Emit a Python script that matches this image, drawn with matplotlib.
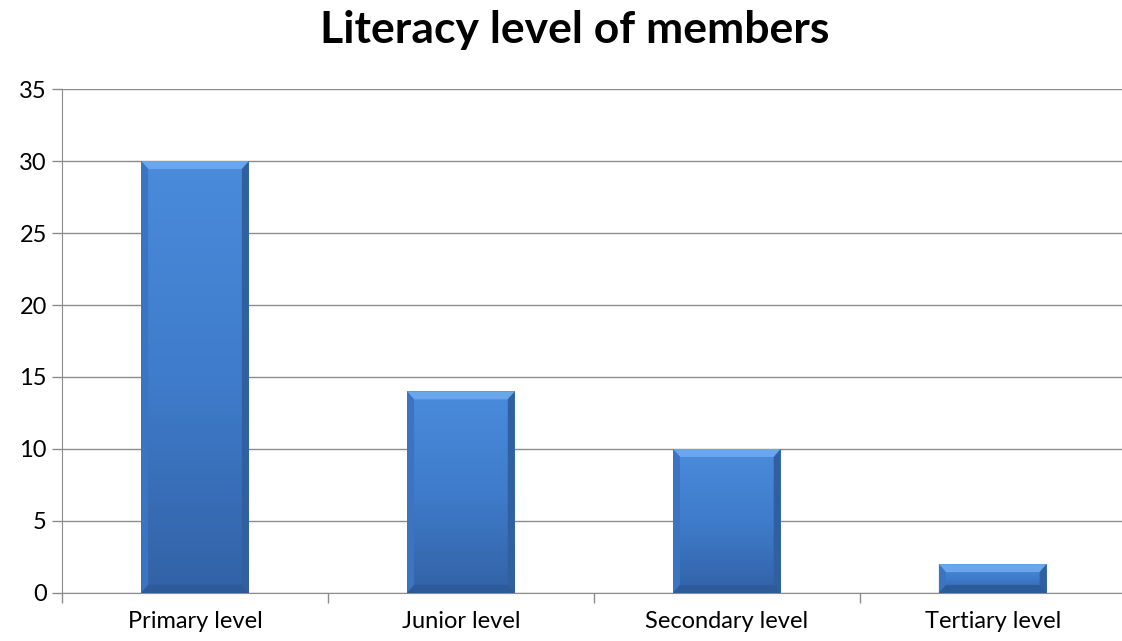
import numpy as np
import matplotlib
matplotlib.use('Agg')
import matplotlib.pyplot as plt
from matplotlib.patches import Polygon, Rectangle
from matplotlib.colors import LinearSegmentedColormap

categories = ['Primary level', 'Junior level', 'Secondary level', 'Tertiary level']
values = [30, 14, 10, 2]

plt.rcParams['font.family'] = ['Lato', 'DejaVu Sans']

fig = plt.figure(figsize=(11.22, 6.41), dpi=100)
ax_box = [0.0553, 0.075, 0.948, 0.786]
ax = fig.add_axes(ax_box)

x = np.arange(len(categories))
width = 0.405
ax.set_xlim(-0.5, len(categories) - 0.5)
ax.set_ylim(0, 35)

# pixel -> data scale for the bevel
ax_w = fig.get_figwidth() * fig.dpi * ax_box[2]
ax_h = fig.get_figheight() * fig.dpi * ax_box[3]
dx = 7 * len(categories) / ax_w
dy = 8 * 35 / ax_h

grad = LinearSegmentedColormap.from_list('g', ['#3262a6', '#3f7ccb', '#4a8bdb'])

for xi, v in zip(x, values):
    l, r = xi - width / 2, xi + width / 2
    rect = Rectangle((l, 0), width, v, facecolor='none', edgecolor='none')
    ax.add_patch(rect)
    im = ax.imshow(np.linspace(0, 1, 100).reshape(-1, 1), cmap=grad, origin='lower',
                   extent=[l, r, 0, v], aspect='auto', zorder=2)
    im.set_clip_path(rect)
    by = min(dy, v / 3)
    # top bevel
    ax.add_patch(Polygon([(l, v), (r, v), (r - dx, v - by), (l + dx, v - by)],
                         closed=True, facecolor='#6aa6ec', edgecolor='none', zorder=3))
    # left bevel
    ax.add_patch(Polygon([(l, v), (l + dx, v - by), (l + dx, by), (l, 0)],
                         closed=True, facecolor='#3b74c0', edgecolor='none', zorder=3))
    # right bevel
    ax.add_patch(Polygon([(r, v), (r - dx, v - by), (r - dx, by), (r, 0)],
                         closed=True, facecolor='#30609f', edgecolor='none', zorder=3))
    # bottom bevel
    ax.add_patch(Polygon([(l, 0), (r, 0), (r - dx, by), (l + dx, by)],
                         closed=True, facecolor='#2d5a98', edgecolor='none', zorder=3))

ax.set_yticks(range(0, 36, 5))
ax.yaxis.grid(True, color='#8c8c8c', linewidth=1)
ax.set_axisbelow(True)
ax.set_xticks(x)
ax.set_xticklabels(categories)
ax.set_xticks(np.arange(-0.5, len(categories)), minor=True)
ax.tick_params(axis='x', which='major', length=0, pad=13, labelsize=17)
ax.tick_params(axis='x', which='minor', length=7, color='#8c8c8c', width=1)
ax.tick_params(axis='y', length=7, color='#8c8c8c', width=1, labelsize=17, pad=4)

for s in ['top', 'right']:
    ax.spines[s].set_visible(False)
for s in ['left', 'bottom']:
    ax.spines[s].set_color('#8c8c8c')

fig.text(0.5125, 0.933, 'Literacy level of members', fontsize=32, fontweight='bold',
         ha='center', va='baseline')

fig.savefig('out.png', dpi=100)
